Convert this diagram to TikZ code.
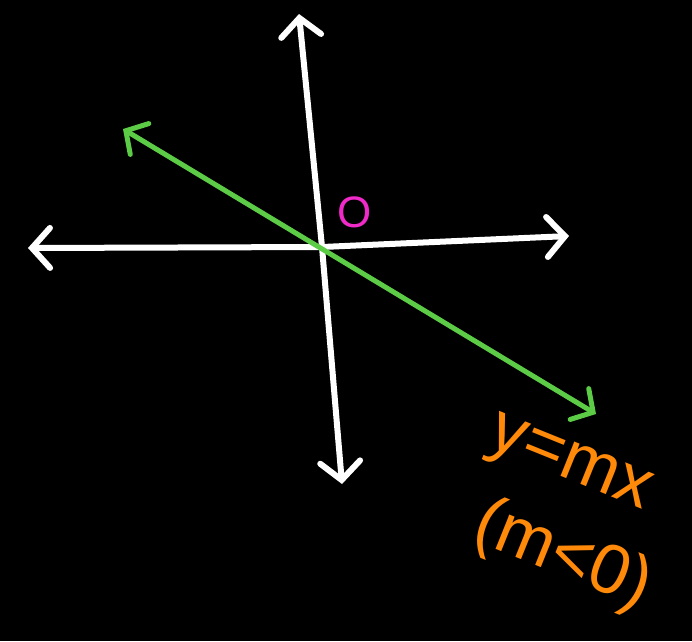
\documentclass[tikz,border=0pt]{standalone}
\usepackage{fontspec}
\setmainfont{Liberation Sans}
\usetikzlibrary{arrows.meta}
\definecolor{chalkgreen}{HTML}{5CCB46}
\definecolor{chalkpink}{HTML}{F02AC8}
\definecolor{chalkorange}{HTML}{FF8A0A}
\tikzset{
  axis/.style={
    draw=white, line width=6pt, line cap=round, line join=round,
    {Straight Barb[length=18pt,width=40pt,line cap=round]}-{Straight Barb[length=18pt,width=40pt,line cap=round]}
  },
  graphline/.style={
    draw=chalkgreen, line width=5pt, line cap=round,
    {Straight Barb[length=16pt,width=36pt,line cap=round]}-{Straight Barb[length=16pt,width=36pt,line cap=round]}
  },
  lbl/.style={inner sep=0pt, align=left, font=\fontsize{70}{92}\selectfont}
}

\begin{document}
\begin{tikzpicture}[x=1pt,y=-1pt]
  % background
  \fill[black] (0,0) rectangle (692,641);
  \useasboundingbox (0,0) rectangle (692,641);

  % axes
  \coordinate (o) at (322,247);
  \coordinate (xl) at (28,248);
  \coordinate (xr) at (569,236);
  \coordinate (yt) at (299,14);
  \coordinate (yb) at (342,484);
  \draw[axis] (xl) -- (o) -- (xr);
  \draw[axis] (yt) -- (o) -- (yb);

  % line y = mx
  \coordinate (gl) at (123,129);
  \coordinate (gr) at (596,414);
  \draw[graphline] (gl) -- (gr);

  \node[text=chalkpink, font=\fontsize{44}{44}\selectfont, inner sep=0pt] (origin) at (355,212) {O};
  \node[lbl, text=chalkorange, rotate=-22] (eq) at (568,516) {y=mx\\\hspace*{20pt}(m<0)};
\end{tikzpicture}
\end{document}
